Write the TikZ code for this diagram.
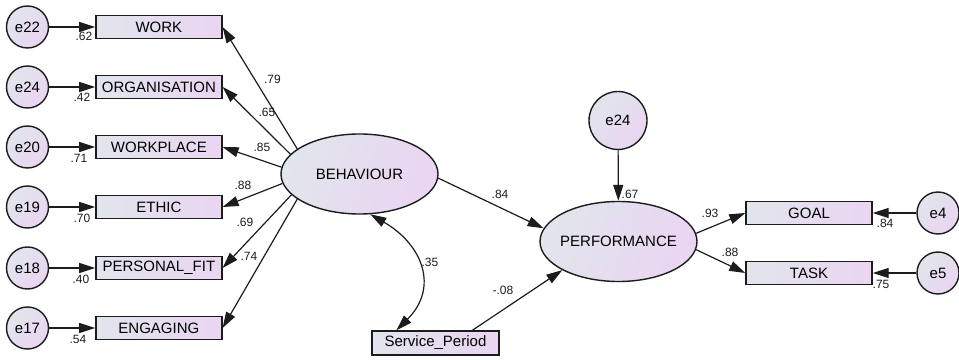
\documentclass[tikz,border=0pt]{standalone}
\usepackage{fontspec}
\setmainfont{Liberation Sans}
\usetikzlibrary{arrows.meta,positioning,shapes.geometric}
\definecolor{ink}{HTML}{1C1C1C}
\definecolor{coolgrey}{HTML}{E1E5EC}
\definecolor{lilac}{HTML}{EAD5F2}
\tikzset{
  reg/.style={
    -{Triangle[length=16pt,width=10pt]},
    draw=ink,
    line width=1.2pt
  },
  covar/.style={
    {Triangle[length=16pt,width=10pt]}-{Triangle[length=16pt,width=10pt]},
    draw=ink,
    line width=1.2pt
  },
  indicator/.style={
    rectangle,
    draw=ink,
    line width=1.4pt,
    left color=coolgrey,
    right color=lilac,
    minimum width=126pt,
    minimum height=23pt,
    inner sep=0pt
  },
  latent/.style={
    ellipse,
    draw=ink,
    line width=1.4pt,
    left color=coolgrey,
    right color=lilac,
    shading angle=70,
    minimum width=157pt,
    minimum height=80pt,
    inner xsep=-5pt
  },
  residual/.style={
    circle,
    draw=ink,
    line width=1.4pt,
    left color=coolgrey,
    right color=lilac,
    shading angle=45,
    minimum size=42pt,
    inner sep=0pt
  },
  coef/.style={
    font=\fontsize{12}{14}\selectfont,
    text=ink,
    inner sep=0pt
  }
}

\begin{document}
\begin{tikzpicture}[x=1pt, y=1pt, font=\fontsize{15}{17}\selectfont]
  \useasboundingbox (0,0) rectangle (959,359);

  %===========================================================
  % Measurement side of BEHAVIOUR: residual -> indicator
  %===========================================================
  \node[residual] (e22)     at (27.5, 332) {e22};
  \node[residual] (e24_org) at (27.5, 272) {e24};
  \node[residual] (e20)     at (27.5, 212) {e20};
  \node[residual] (e19)     at (27.5, 152) {e19};
  \node[residual] (e18)     at (27.5,  91) {e18};
  \node[residual] (e17)     at (27.5,  31) {e17};

  \node[indicator, right=46pt of e22]     (work)   {WORK};
  \node[indicator, right=46pt of e24_org] (org)    {ORGANISATION};
  \node[indicator, right=46pt of e20]     (wplace) {WORKPLACE};
  \node[indicator, right=46pt of e19]     (ethic)  {ETHIC};
  \node[indicator, right=46pt of e18]     (pfit)   {PERSONAL\_FIT};
  \node[indicator, right=46pt of e17]     (engage) {ENGAGING};

  \draw[reg] (e22.east)     -- (work.west);
  \draw[reg] (e24_org.east) -- (org.west);
  \draw[reg] (e20.east)     -- (wplace.west);
  \draw[reg] (e19.east)     -- (ethic.west);
  \draw[reg] (e18.east)     -- (pfit.west);
  \draw[reg] (e17.east)     -- (engage.west);

  \node[coef] (r_work)   at (84, 322.3) {.62};
  \node[coef] (r_org)    at (82, 261.5) {.42};
  \node[coef] (r_wplace) at (79, 201)   {.71};
  \node[coef] (r_ethic)  at (82, 141)   {.70};
  \node[coef] (r_pfit)   at (81,  80)   {.40};
  \node[coef] (r_engage) at (78,  20)   {.54};

  %===========================================================
  % Latent variables and the observed covariate
  %===========================================================
  \node[latent] (beh)  at (359.5, 185)   {BEHAVIOUR};
  \node[latent] (perf) at (618.5, 117.5) {PERFORMANCE};
  \node[indicator, minimum width=127pt, minimum height=24pt] (sp) at (435.5, 16) {Service\_Period};
  \node[residual, minimum size=58pt] (e24_perf) at (618, 238.5) {e24};

  %===========================================================
  % Loadings of BEHAVIOUR
  %===========================================================
  \draw[reg] (beh.158) -- (work.east);
  \draw[reg] (beh.164) -- (org.east);
  \draw[reg] (beh.175) -- (wplace.east);
  \draw[reg] (beh.187) -- (ethic.east);
  \draw[reg] (beh.197) -- (pfit.east);
  \draw[reg] (beh.202) -- (engage.east);

  \node[coef] (l_work)   at (272.5, 280) {.79};
  \node[coef] (l_org)    at (267,   247) {.65};
  \node[coef] (l_wplace) at (262,   212) {.85};
  \node[coef] (l_ethic)  at (243,   174) {.88};
  \node[coef] (l_pfit)   at (245,   137) {.69};
  \node[coef] (l_engage) at (249,   103) {.74};

  %===========================================================
  % Structural paths
  %===========================================================
  \draw[reg] (beh.-3) -- (perf.170);
  \draw[reg] (sp.19) -- (perf.207);
  \draw[reg] (e24_perf) -- (perf);
  \draw[covar] (beh.-75) to[out=-30, in=45, looseness=1.3] (sp.162);

  \node[coef] (b_perf) at (500, 165) {.84};
  \node[coef] (b_cov)  at (430,  97) {.35};
  \node[coef] (b_sp)   at (503,  69) {-.08};
  \node[coef] (b_res)  at (630, 165) {.67};

  %===========================================================
  % Measurement side of PERFORMANCE
  %===========================================================
  \node[indicator] (goal) at (809, 146) {GOAL};
  \node[indicator] (task) at (809,  86) {TASK};
  \node[residual]  (e4)   at (938, 146) {e4};
  \node[residual]  (e5)   at (938,  86) {e5};

  \draw[reg] (perf.6)  -- (goal.west);
  \draw[reg] (perf.-6) -- (task.west);
  \draw[reg] (e4.west) -- (goal.east);
  \draw[reg] (e5.west) -- (task.east);

  \node[coef] (l_goal) at (710, 146) {.93};
  \node[coef] (l_task) at (730, 107) {.88};
  \node[coef] (r_goal) at (885, 136) {.84};
  \node[coef] (r_task) at (881,  75) {.75};

\end{tikzpicture}
\end{document}
